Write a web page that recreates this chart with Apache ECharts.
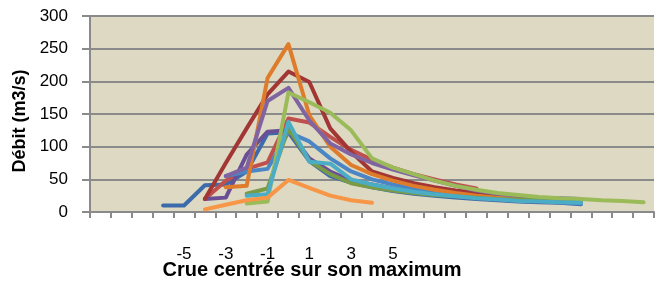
<!DOCTYPE html>
<html>
<head>
<meta charset="utf-8">
<script src="https://cdn.jsdelivr.net/npm/echarts@6/dist/echarts.min.js"></script>
<style>
html,body{margin:0;padding:0;background:#fff;}
#chart{width:670px;height:286px;}
</style>
</head>
<body>
<div id="chart"></div>
<script>
// jours autour du maximum de crue (-9 .. 17)
var jours = [];
for (var d = -9; d <= 17; d++) jours.push(d);
var etiquettes = ['', '', '', '', '-5', '', '-3', '', '-1', '', '1', '', '3', '', '5',
	'', '', '', '', '', '', '', '', '', '', '', ''];

// débits (m3/s), un tableau par crue
var crueBleuFonce = [null,null,null,10,10,41,42,62,120,122,78,55,45,38,32,28,25,22,20,18,16,15,14,12,null,null,null];
var crueRouge     = [null,null,null,null,null,20,48,66,76,143,137,115,95,80,68,58,50,42,36,null,null,null,null,null,null,null,null];
var crueVioletF   = [null,null,null,null,null,20,22,88,123,125,82,62,48,42,36,31,27,24,21,19,17,16,15,14,null,null,null];
var crueBleu      = [null,null,null,null,null,null,55,62,66,122,108,82,62,50,42,36,31,27,24,21,19,17,15,13,null,null,null];
var crueRougeF    = [null,null,null,null,null,20,75,128,180,215,199,128,92,62,52,44,38,33,29,26,null,null,null,null,null,null,null];
var crueOrangeF   = [null,null,null,null,null,null,38,40,205,257,148,100,72,58,48,40,34,29,25,22,20,18,17,null,null,null,null];
var crueViolet    = [null,null,null,null,null,null,55,68,170,190,140,105,88,75,65,56,48,40,33,28,25,22,21,20,null,null,null];
var crueVertF     = [null,null,null,null,null,null,null,28,36,128,78,58,44,38,33,29,26,24,22,20,19,18,17,16,null,null,null];
var crueVert      = [null,null,null,null,null,null,null,13,16,183,168,152,125,82,68,58,48,40,34,29,26,23,21,20,18,17,15];
var crueTurquoise = [null,null,null,null,null,null,null,25,27,138,77,74,50,42,36,31,27,24,21,19,17,16,15,14,null,null,null];
var crueOrange    = [null,null,null,null,null,4,11,18,22,49,37,25,18,14,null,null,null,null,null,null,null,null,null,null,null,null,null];

var crues = [
	[crueBleuFonce, '#3B6BAA'],
	[crueRouge, '#C0504D'],
	[crueVioletF, '#6A4F95'],
	[crueBleu, '#4A86C5'],
	[crueRougeF, '#A13634'],
	[crueOrangeF, '#DE7C2C'],
	[crueViolet, '#8064A2'],
	[crueVertF, '#7A9A45'],
	[crueVert, '#9BBB59'],
	[crueTurquoise, '#4BACC6'],
	[crueOrange, '#F79646']
];

var series = [];
for (var i = 0; i < crues.length; i++) {
	series.push({
		type: 'line',
		data: crues[i][0],
		symbol: 'none',
		silent: true,
		lineStyle: {color: crues[i][1], width: 4, join: 'round', cap: 'round'}
	});
}

var axisGris = '#8A8A8A';
var police = '"Liberation Sans", Arial, sans-serif';

var myChart = echarts.init(document.getElementById('chart'));
var option = {
	animation: false,
	grid: {left: 90, right: 16, top: 16, bottom: 74, show: true, backgroundColor: '#DDD9C3', borderWidth: 0},
	xAxis: {
		type: 'category',
		data: etiquettes,
		boundaryGap: true,
		axisLine: {lineStyle: {color: axisGris, width: 2}},
		axisTick: {show: true, interval: 0, length: 6, lineStyle: {color: axisGris, width: 2}},
		axisLabel: {interval: 0, margin: 34, fontSize: 17, color: '#000', fontFamily: police},
		splitLine: {show: false}
	},
	yAxis: {
		type: 'value',
		min: 0, max: 300, interval: 50,
		axisLine: {show: true, lineStyle: {color: axisGris, width: 2}},
		axisTick: {show: true, length: 8, lineStyle: {color: axisGris, width: 2}},
		axisLabel: {margin: 22, fontSize: 17, color: '#000', fontFamily: police},
		splitLine: {lineStyle: {color: axisGris, width: 2}}
	},
	graphic: [
		{
			type: 'text', x: 20, y: 121, rotation: Math.PI / 2,
			style: {text: 'Débit (m3/s)', fontSize: 18, fontWeight: 'bold', fontFamily: police,
				fill: '#000', textAlign: 'center', textVerticalAlign: 'middle'}
		},
		{
			type: 'text', x: 312, y: 270,
			style: {text: 'Crue centrée sur son maximum', fontSize: 20, fontWeight: 'bold', fontFamily: police,
				fill: '#000', textAlign: 'center', textVerticalAlign: 'middle'}
		}
	],
	series: series
};
myChart.setOption(option);
</script>
</body>
</html>
